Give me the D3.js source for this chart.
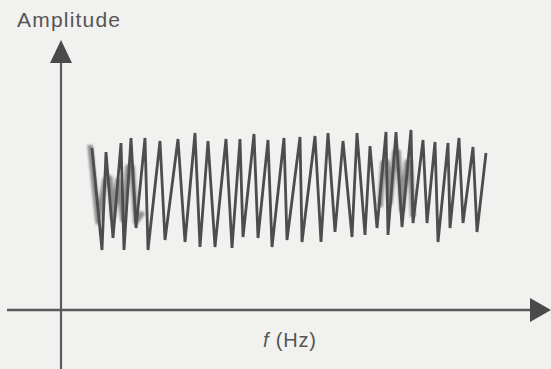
<!DOCTYPE html>
<html>
<head>
<meta charset="utf-8">
<script src="https://cdn.jsdelivr.net/npm/d3@7"></script>
<style>
  body { margin: 0; background: #f1f1ef; }
  svg { display: block; }
  text { font-family: "Liberation Sans", Arial, sans-serif; fill: #555; }
</style>
</head>
<body>
<script>
// values (frequency / amplitude, arbitrary units)
var waveFreq = [31, 41, 45, 52, 60, 63, 70, 75, 84, 87, 99, 104, 117, 124, 134, 139, 147, 154,
  165, 171, 179, 182, 193, 197, 207, 211, 223, 226, 239, 241, 254, 260, 267, 274, 282, 291,
  296, 304, 309, 316, 325, 327, 335, 341, 350, 352, 362, 366, 374, 377, 387, 389, 398, 402,
  412, 416, 425];
var waveAmp = [162, 60, 158, 72, 167, 60, 172, 82, 172, 60, 169, 70, 171, 68, 177, 63, 169, 63,
  171, 62, 171, 73, 176, 72, 170, 63, 172, 70, 173, 68, 174, 68, 177, 78, 169, 73,
  177, 75, 164, 82, 178, 75, 178, 83, 180, 87, 170, 87, 168, 68, 167, 82, 172, 87,
  163, 78, 157];

// lighter noise bursts
var noise1Freq = [29, 37, 44, 49, 52, 57, 62, 67, 71, 75, 82];
var noise1Amp = [165, 88, 130, 132, 93, 130, 90, 143, 143, 88, 98];
var noise2Freq = [319, 322, 326, 329, 334, 337, 341, 346, 349, 352];
var noise2Amp = [103, 147, 148, 107, 158, 158, 100, 148, 148, 93];

var w = 551, h = 369;

var svg = d3.select("body").append("svg")
  .attr("width", w)
  .attr("height", h);

var defs = svg.append("defs");
defs.append("filter").attr("id", "soft")
  .append("feGaussianBlur").attr("stdDeviation", 1);

var xScale = d3.scaleLinear().domain([0, 490]).range([61, 551]);
var yScale = d3.scaleLinear().domain([0, 270]).range([310, 40]);

var line = d3.line()
  .x(function(d) { return xScale(d[0]); })
  .y(function(d) { return yScale(d[1]); });

// axes
var axisColor = "#5a5a5a";
svg.append("line")
  .attr("x1", xScale(0)).attr("x2", xScale(0))
  .attr("y1", yScale(-70)).attr("y2", yScale(250))
  .attr("stroke", axisColor).attr("stroke-width", 2.2);
svg.append("line")
  .attr("x1", xScale(-54)).attr("x2", xScale(472))
  .attr("y1", yScale(0)).attr("y2", yScale(0))
  .attr("stroke", axisColor).attr("stroke-width", 2.6);

svg.append("path")
  .attr("d", line([[-11, 247], [0, 270], [11, 247]]) + "Z")
  .attr("fill", "#4a4a4a");
svg.append("path")
  .attr("d", line([[469, 12], [490, 0], [469, -12]]) + "Z")
  .attr("fill", "#4a4a4a");

// noise bursts
[[noise1Freq, noise1Amp], [noise2Freq, noise2Amp]].forEach(function(s) {
  svg.append("path")
    .datum(d3.zip(s[0], s[1]))
    .attr("d", line)
    .attr("fill", "none")
    .attr("stroke", "#8f8f8f")
    .attr("stroke-width", 5.5)
    .attr("stroke-linejoin", "round")
    .attr("filter", "url(#soft)");
});

// main waveform
svg.append("path")
  .datum(d3.zip(waveFreq, waveAmp))
  .attr("d", line)
  .attr("fill", "none")
  .attr("stroke", "#4d4d4d")
  .attr("stroke-width", 2.8)
  .attr("stroke-linejoin", "miter");

// labels
svg.append("text")
  .attr("x", 17).attr("y", 27)
  .attr("font-size", 21)
  .style("letter-spacing", "1.2px")
  .text("Amplitude");

var fl = svg.append("text")
  .attr("x", 263).attr("y", 347)
  .attr("font-size", 20)
  .style("letter-spacing", "0.8px");
fl.append("tspan").attr("font-style", "italic").text("f");
fl.append("tspan").text(" (Hz)");
</script>
</body>
</html>
